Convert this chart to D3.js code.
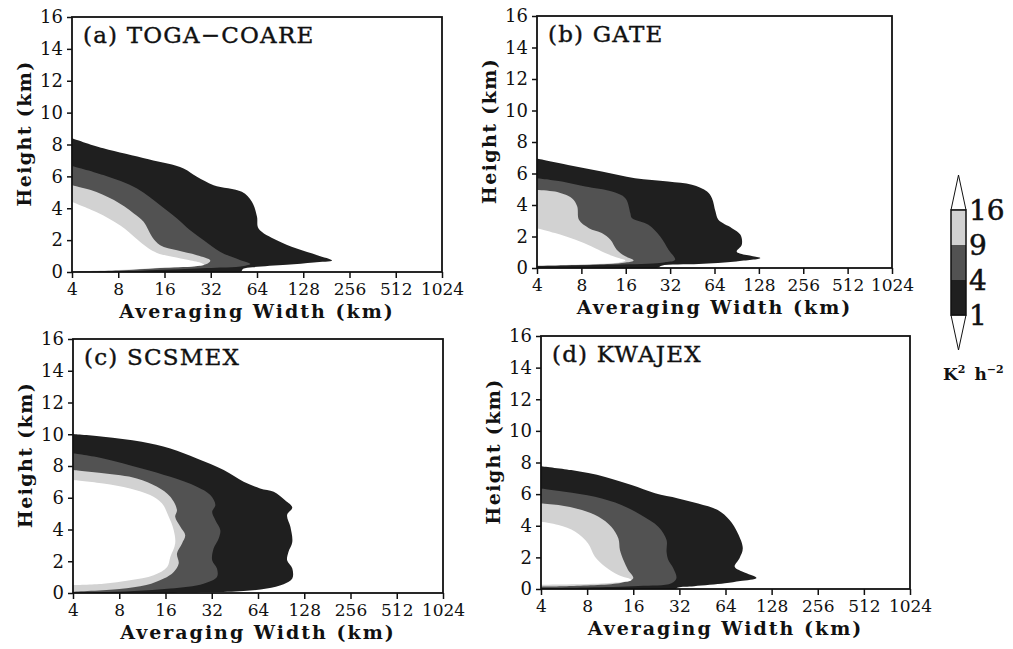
<!DOCTYPE html>
<html>
<head>
<meta charset="utf-8">
<script src="https://cdn.jsdelivr.net/npm/d3@7"></script>
<style>
  html, body { margin: 0; padding: 0; background: #fff; }
  svg { display: block; }
  text { font-family: "DejaVu Serif", "Liberation Serif", serif; fill: #111; }
</style>
</head>
<body>
<svg id="chart" width="1013" height="649"></svg>
<script>
// Contour levels (K^2 h^-2) and axis ticks.
const levels = [1, 4, 9, 16];
const widthTicks = [4, 8, 16, 32, 64, 128, 256, 512, 1024];
const heightTicks = [0, 2, 4, 6, 8, 10, 12, 14, 16];
const panelTitles = ['(a) TOGA\u2212COARE', '(b) GATE', '(c) SCSMEX', '(d) KWAJEX'];

// Each panel: one outline per level, [averaging width km, height km],
// running along the upper edge from x=4 out to the tip and back along the bottom.
const togaCoare = [
  [[4,8.4],[6.4,7.76],[12.6,7.07],[21.3,6.5],[26,5.97],[33.4,5.45],[51,5.03],[59.4,4.4],[64,3.46],[65.5,2.73],[86,1.99],[116,1.47],[158,1.05],[197,0.72],[150,0.6],[100,0.45],[60,0.3],[52,0.2],[50,0],[4,0]],
  [[4,6.65],[6.4,6.08],[10.6,5.24],[15,4.19],[19.3,3.36],[23.5,2.62],[28.8,1.99],[37,1.26],[50,0.74],[58,0.5],[50,0.35],[37,0.28],[20,0.18],[8,0.05],[4,0]],
  [[4,5.45],[5.3,5.14],[7.5,4.51],[10.1,3.67],[11.7,3.15],[13.3,2.2],[15,1.68],[19.3,1.36],[26,1.05],[31.8,0.72],[30,0.5],[26,0.4],[15,0.25],[8,0.1],[4,0.02]],
  [[4,4.4],[5.8,3.75],[8.3,2.9],[10.6,2.05],[12.5,1.5],[14.3,1.2],[18,0.95],[23,0.75],[28,0.55],[29,0.45],[25,0.35],[15,0.27],[8,0.12],[4,0.04]]
];
const gate = [
  [[4,6.95],[6.5,6.54],[11,6.12],[18.5,5.7],[31,5.49],[45,5.28],[57,4.85],[61.5,4.43],[65,3.58],[68,3.06],[84,2.53],[96,2.11],[98,1.48],[90.5,1.05],[95,0.92],[131,0.63],[90,0.42],[50,0.25],[28,0.15],[26,0],[4,0]],
  [[4,5.7],[5.9,5.49],[8.5,5.17],[12.9,4.85],[15.9,4.43],[17.2,3.48],[17.6,3.17],[22.8,2.74],[27.4,2.0],[31.2,1.16],[34.6,0.53],[30,0.38],[26,0.3],[12,0.2],[4,0.12]],
  [[4,4.96],[5.3,4.85],[6.9,4.43],[7.5,3.9],[7.7,3.06],[9,2.53],[11,2.22],[12.6,1.79],[13.9,1.16],[15.9,0.74],[18.1,0.48],[16,0.35],[12,0.25],[4,0.14]],
  [[4,2.53],[5.3,2.22],[7.3,1.79],[9.4,1.37],[11.6,0.95],[14.3,0.63],[15.9,0.48],[14,0.33],[10,0.25],[4,0.15]]
];
const scsmex = [
  [[4,10.02],[6.3,9.85],[11.2,9.53],[17.2,9.11],[25.6,8.48],[38.3,7.75],[51.6,7.01],[66,6.59],[81,6.38],[96,5.85],[107,5.39],[99,4.91],[104,4.17],[107,3.22],[101,2.59],[99,2.06],[107,1.54],[107,0.91],[94,0.55],[73,0.28],[51.6,0.13],[30,0.05],[4,0]],
  [[4,8.8],[6.3,8.48],[11.2,7.85],[17.2,7.32],[25.6,6.69],[31.3,6.17],[33.8,5.54],[32.2,5.11],[33.8,4.59],[36.4,3.96],[35.5,3.43],[32.9,2.8],[32.2,2.06],[34.6,1.54],[34.6,1.01],[28.3,0.59],[17.2,0.28],[10,0.12],[6,0.05],[4,0.03]],
  [[4,7.75],[6.3,7.54],[10.4,7.22],[14.1,6.69],[17.2,6.06],[19,5.22],[18.5,4.8],[20,4.17],[21.5,3.64],[20.5,3.12],[19,2.49],[19.5,1.86],[18.1,1.33],[15.6,0.91],[12,0.5],[8,0.25],[4,0.08]],
  [[4,7.12],[6.3,6.9],[9.4,6.59],[12.7,6.17],[15.2,5.64],[16.8,4.8],[18.1,3.96],[18.5,3.12],[17.2,2.27],[16.4,1.64],[13.4,1.12],[9.4,0.8],[6.3,0.59],[4,0.5]]
];
const kwajex = [
  [[4,7.77],[6.3,7.52],[10.5,7.09],[15.6,6.57],[22.2,6.05],[31.4,5.73],[42.4,5.41],[57,4.99],[68,4.36],[77,3.52],[83,2.57],[79,1.94],[73.5,1.41],[83,1.09],[102,0.7],[80,0.5],[63.5,0.36],[40,0.18],[31.4,0.1],[30,0],[4,0]],
  [[4,6.36],[5.7,6.15],[9,5.83],[13.4,5.31],[18.1,4.67],[23.3,3.94],[26.4,3.1],[26.4,2.36],[27.1,1.83],[29.2,1.31],[30.6,0.68],[28.4,0.36],[17.3,0.19],[8,0.1],[4,0.06]],
  [[4,5.41],[5.2,5.31],[7.4,4.99],[9.5,4.57],[11.5,3.94],[12.8,3.2],[13.1,2.46],[13.8,1.83],[14.8,1.2],[16,0.68],[13.4,0.4],[6.3,0.19],[4,0.15]],
  [[4,4.25],[5.2,4.04],[6.7,3.62],[8.1,2.89],[9,2.04],[10.5,1.41],[12.8,0.88],[15.6,0.57],[10.5,0.36],[4,0.27]]
];
const panelData = [togaCoare, gate, scsmex, kwajex];

// fills for >1, >4, >9, >16
const fills = ['#1f1f1f', '#525252', '#d2d2d2', '#ffffff'];

// plot boxes (left, right, top, bottom) in page pixels
const boxes = [
  { x0: 72, x1: 442, y0: 17, y1: 272 },
  { x0: 537, x1: 892, y0: 16, y1: 268 },
  { x0: 73, x1: 443, y0: 339, y1: 593 },
  { x0: 541, x1: 910, y0: 336, y1: 589 },
];

const svg = d3.select('#chart');

boxes.forEach((b, i) => {
  const x = d3.scaleLog().base(2).domain([4, 1024]).range([b.x0, b.x1]);
  const y = d3.scaleLinear().domain([0, 16]).range([b.y1, b.y0]);
  const g = svg.append('g');

  const clipId = 'clip' + i;
  svg.append('clipPath').attr('id', clipId)
    .append('rect').attr('x', b.x0).attr('y', b.y0)
    .attr('width', b.x1 - b.x0).attr('height', b.y1 - b.y0);

  const line = d3.line()
    .x(d => x(d[0])).y(d => y(d[1]))
    .curve(d3.curveCatmullRom.alpha(0.5));

  g.append('g').attr('clip-path', `url(#${clipId})`)
    .selectAll('path').data(panelData[i]).join('path')
    .attr('d', d => line(d) + 'Z')
    .attr('fill', (d, k) => fills[k])
    .attr('stroke', 'none');

  // frame
  g.append('rect').attr('x', b.x0).attr('y', b.y0)
    .attr('width', b.x1 - b.x0).attr('height', b.y1 - b.y0)
    .attr('fill', 'none').attr('stroke', '#111').attr('stroke-width', 1.8);

  const xAxis = g.append('g').attr('transform', `translate(0,${b.y1})`)
    .call(d3.axisBottom(x).tickValues(widthTicks).tickFormat(d3.format('d')).tickSize(6).tickPadding(3));
  const yAxis = g.append('g').attr('transform', `translate(${b.x0},0)`)
    .call(d3.axisLeft(y).tickValues(heightTicks).tickSize(5).tickPadding(4));
  [xAxis, yAxis].forEach(a => {
    a.select('.domain').remove();
    a.selectAll('line').attr('stroke', '#111').attr('stroke-width', 1.5);
    a.selectAll('text').attr('font-family', '"DejaVu Serif", serif').attr('fill', '#111');
  });
  xAxis.selectAll('text').attr('font-size', 17).attr('dy', '0.8em');
  yAxis.selectAll('text').attr('font-size', 18);

  g.append('text')
    .attr('x', (b.x0 + b.x1) / 2).attr('y', b.y1 + 46)
    .attr('text-anchor', 'middle').attr('font-size', 19).attr('font-weight', 'bold')
    .attr('letter-spacing', 2)
    .text('Averaging Width (km)');

  g.append('text')
    .attr('transform', `translate(${b.x0 - 48},${(b.y0 + b.y1) / 2 - 11}) rotate(-90)`)
    .attr('dy', '0.35em')
    .attr('text-anchor', 'middle').attr('font-size', 19).attr('font-weight', 'bold')
    .attr('letter-spacing', 1.4)
    .text('Height (km)');

  g.append('text')
    .attr('x', b.x0 + 11).attr('y', b.y0 + 26)
    .attr('font-size', 23).attr('letter-spacing', 1.2)
    .attr('stroke', '#111').attr('stroke-width', 0.4)
    .text(panelTitles[i]);
});

/* colour bar */
const legend = svg.append('g');
const lx0 = 951, lx1 = 966;
const ly = d3.scaleLinear().domain([0, levels.length - 1]).range([315, 210]);
const tri = 35;
legend.append('path')
  .attr('d', `M${lx0},${ly(3)} L${(lx0 + lx1) / 2},${ly(3) - tri} L${lx1},${ly(3)} Z`)
  .attr('fill', '#fff').attr('stroke', '#111').attr('stroke-width', 1);
legend.append('path')
  .attr('d', `M${lx0},${ly(0)} L${(lx0 + lx1) / 2},${ly(0) + tri} L${lx1},${ly(0)} Z`)
  .attr('fill', '#fff').attr('stroke', '#111').attr('stroke-width', 1);
legend.selectAll('rect.seg').data(levels.slice(0, -1)).join('rect')
  .attr('class', 'seg')
  .attr('x', lx0).attr('width', lx1 - lx0)
  .attr('y', (d, k) => ly(k + 1)).attr('height', (d, k) => ly(k) - ly(k + 1))
  .attr('fill', (d, k) => fills[k]);
legend.append('rect').attr('x', lx0).attr('y', ly(3))
  .attr('width', lx1 - lx0).attr('height', ly(0) - ly(3))
  .attr('fill', 'none').attr('stroke', '#111').attr('stroke-width', 1.5);
legend.selectAll('text.lev').data(levels).join('text')
  .attr('class', 'lev')
  .attr('x', 969).attr('y', (d, k) => ly(k)).attr('dy', '0.36em')
  .attr('font-family', '"Liberation Serif", serif').attr('font-size', 28)
  .attr('stroke', '#111').attr('stroke-width', 0.5)
  .text(d => d);

const unit = legend.append('text').attr('x', 943).attr('y', 380)
  .attr('font-size', 17).attr('font-weight', 'bold');
unit.append('tspan').text('K');
unit.append('tspan').attr('font-size', 11).attr('dy', -7).text('2');
unit.append('tspan').attr('dx', 9).attr('dy', 7).text('h');
unit.append('tspan').attr('font-size', 11).attr('dy', -7).text('\u22122');
</script>
</body>
</html>
